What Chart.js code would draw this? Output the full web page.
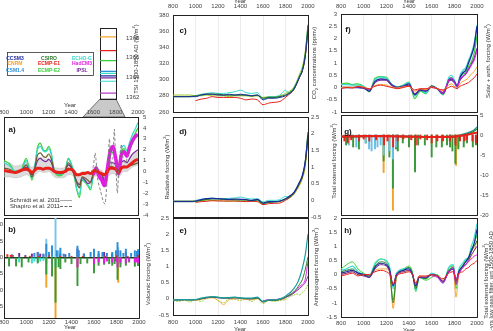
<!DOCTYPE html>
<html>
<head>
<meta charset="utf-8">
<script src="https://cdn.jsdelivr.net/npm/chart.js@4.4.0/dist/chart.umd.min.js"></script>
<style>
body{margin:0;width:493px;height:331px;overflow:hidden;background:#fff;position:relative;font-family:'Liberation Sans',Arial,sans-serif}
canvas{position:absolute}
.t{position:absolute;font-size:6px;color:#333;white-space:nowrap;transform:translate(-50%,-50%)}
.v{position:absolute;font-size:6px;color:#333;white-space:nowrap;transform:translate(-50%,-50%) rotate(-90deg)}
.lab{position:absolute;font-size:8px;font-weight:bold;color:#111;transform:translate(-50%,-50%)}
.lg{position:absolute;font-size:5px;font-weight:bold;white-space:nowrap;transform:translate(-50%,-50%)}
</style>
</head>
<body>
<svg width="493" height="331" style="position:absolute;left:0;top:0">
  <polygon points="100,99 116,99 125,117 83,117" fill="#c9c9c9" stroke="#555" stroke-width="0.8"/>
  <rect x="7.5" y="52.5" width="86" height="23" fill="none" stroke="#333" stroke-width="0.8"/>
</svg>
<script>
// modelos y colores
const models = ['CCSM3', 'CSIRO', 'ECHO-G', 'CNRM', 'ECMP-E1', 'HadCM3', 'CSM1.4', 'ECMP-E2', 'IPSL'];
const modelColors = ['#1b2c9c', '#2c7a2c', '#36dccc', '#f3a32a', '#e8211b', '#e21be2', '#2a8fd8', '#38d038', '#7a2a9a'];

// TSI 1500-1850 AD
const tsiColors = ['#f3a32a', '#e8211b', '#38d038', '#2a8fd8', '#36dccc', '#1b2c9c', '#7a2a9a', '#36dccc', '#b040c0'];
const tsiValues = [1368.1, 1366.7, 1365.7, 1364.6, 1364.4, 1364.15, 1363.95, 1363.6, 1362.4];

// a) solar
const yrsA = [800, 850, 900, 950, 1000, 1025, 1050, 1075, 1100, 1125, 1150, 1175, 1200, 1225, 1250, 1300, 1350, 1375, 1400, 1425, 1450, 1475, 1500, 1525, 1550, 1575, 1600, 1625, 1650, 1675, 1700, 1725, 1750, 1775, 1800, 1825, 1850, 1875, 1900, 1925, 1950, 1975, 2000];
const aGreen = [1.0, 0.7, 0.0, 0.1, 1.2, 0.3, -0.8, 0.4, 2.2, 2.6, 2.0, 1.9, 2.3, 1.6, 0.0, -0.4, 0.2, 1.2, 0.8, -0.2, -1.6, -2.4, -0.8, -1.0, -1.3, -1.7, -0.4, 0.5, -0.2, -0.4, -1.4, -0.3, 1.9, 1.7, 1.4, -0.1, 1.8, 2.1, 1.6, 2.3, 3.0, 3.5, 4.0];
const aCyan = [0.8, 0.5, 0.0, 0.0, 1.0, 0.2, -0.6, 0.5, 2.0, 2.3, 1.9, 1.8, 2.1, 1.5, 0.1, -0.3, 0.2, 1.1, 0.7, -0.1, -1.5, -2.1, -0.7, -0.9, -1.2, -1.5, -0.3, 0.4, -0.2, -0.3, -1.2, -0.2, 2.1, 2.0, 1.6, 0.2, 2.0, 2.4, 1.9, 2.7, 3.4, 3.9, 4.5];
const aBrown = [0.3, 0.2, -0.1, 0.0, 0.6, 0.1, -0.5, 0.3, 1.5, 1.7, 1.4, 1.3, 1.6, 1.1, 0.1, -0.2, 0.1, 0.8, 0.5, -0.2, -1.0, -1.5, -0.5, -0.6, -0.8, -1.0, -0.2, 0.3, -0.1, -0.2, -0.8, -0.1, 0.5, 0.4, 0.3, 0.0, 0.4, 0.5, 0.4, 0.5, 0.6, 0.7, 0.8];
const aPurple = [0.1, 0.0, -0.1, 0.0, 0.4, 0.1, -0.3, 0.2, 1.0, 1.2, 1.0, 0.9, 1.1, 0.8, 0.0, -0.2, 0.1, 0.6, 0.4, -0.2, -0.9, -1.2, -0.6, -0.8, -1.1, -1.0, -0.2, 0.2, -0.2, -0.3, -1.0, -0.2, 0.8, 0.8, 0.6, 0.0, 0.8, 1.0, 0.8, 1.2, 1.6, 1.8, 2.0];
const aRed = [0.1, 0.0, -0.1, 0.1, 0.2, 0.1, -0.1, 0.1, 0.3, 0.3, 0.2, 0.3, 0.3, 0.2, 0.0, -0.1, 0.0, 0.2, 0.2, 0.0, -0.3, -0.3, -0.2, -0.2, -0.1, -0.2, 0.0, 0.1, -0.1, -0.2, -0.3, 0.0, 0.3, 0.3, 0.2, -0.1, 0.3, 0.4, 0.4, 0.6, 0.8, 1.0, 1.1];
const aSchmidtHi = [0.9, 0.8, 0.5, 0.6, 0.9, 0.6, 0.4, 0.6, 1.2, 1.3, 1.2, 1.1, 1.2, 0.9, 0.4, 0.3, 0.4, 0.8, 0.7, 0.3, -0.2, -0.4, 0.0, 0.0, -0.1, -0.2, 0.3, 0.5, 0.2, 0.1, -0.2, 0.4, 0.8, 0.8, 0.7, 0.3, 0.8, 1.0, 0.9, 1.2, 1.5, 1.7, 1.8];
const aSchmidtLo = [-0.5, -0.5, -0.6, -0.5, -0.3, -0.4, -0.6, -0.4, -0.1, 0.0, -0.1, -0.1, 0.0, -0.2, -0.5, -0.6, -0.5, -0.3, -0.3, -0.5, -1.2, -1.5, -0.8, -0.9, -1.0, -1.2, -0.6, -0.4, -0.6, -0.8, -1.2, -0.6, -0.3, -0.2, -0.3, -0.6, -0.2, 0.0, 0.0, 0.2, 0.4, 0.5, 0.6];
const magYrsA = [1600, 1625, 1650, 1675, 1700, 1725, 1750, 1775, 1800, 1825, 1850, 1875, 1900, 1925, 1950, 1975, 2000];
const aMagenta = [-0.3, 0.3, -0.4, -0.8, -1.3, 0.2, 1.8, 2.3, 1.2, -0.2, 1.5, 1.8, 1.4, 2.2, 2.8, 3.2, 3.4];
const shapYrs = [1580, 1600, 1617, 1640, 1665, 1690, 1706, 1725, 1744, 1760, 1775, 1788, 1800, 1815, 1830, 1850, 1870, 1890, 1910, 1930, 1950, 1975, 2000];
const shapVals = [-0.1, 0.5, 1.7, -0.8, -1.8, -2.8, -3.0, -0.5, 3.0, 0.6, 1.2, 3.9, 1.0, -2.0, 0.5, 2.5, 1.0, 0.8, 1.5, 2.0, 2.6, 3.0, 3.3];

// b) volcanic
const bGreenYrs = [845, 907, 958, 1018, 1100, 1176, 1227, 1258, 1285, 1301, 1345, 1400, 1453, 1480, 1540, 1600, 1641, 1690, 1735, 1762, 1783, 1809, 1835, 1883, 1912, 1963, 1991];
const bGreen = [-2.7, -2.7, -3.0, -1.5, -1.8, -5.2, -5.8, -13.8, -3.0, -3.5, -1.5, -2.0, -8.7, -2.0, -1.8, -4.8, -2.5, -2.2, -2.0, -2.5, -2.0, -6.8, -3.0, -2.5, -1.5, -2.8, -2.6];
const bOrangeYrs = [1176, 1258, 1453, 1815, 1835];
const bOrange = [-9.2, -22, -3.0, -7.7, -2.0];
const bLightYrs = [1176, 1258, 1285, 1453, 1600, 1815];
const bLight = [5.5, 16, 2.0, 2.5, 2.0, 3.0];
const bBlueYrs = [870, 990, 1070, 1100, 1150, 1176, 1200, 1227, 1270, 1301, 1330, 1380, 1453, 1465, 1510, 1570, 1600, 1641, 1675, 1715, 1762, 1795, 1809, 1835, 1861, 1883, 1930, 1963, 1982, 1991];
const bBlue = [0.8, 0.6, 1.2, 1.5, 1.0, 4.0, 1.5, 3.5, 2.0, 2.8, 1.0, 1.2, 3.4, 2.0, 1.0, 1.5, 2.5, 1.8, 1.5, 1.2, 1.5, 2.0, 4.5, 2.0, 1.2, 2.5, 1.2, 2.0, 1.8, 2.3];
const bPurpleYrs = [935, 1048, 1100, 1122, 1150, 1300, 1345, 1453, 1510, 1600, 1641, 1690, 1762, 1809, 1883, 1991];
const bPurple = [1.2, 1.0, 1.5, 1.0, 0.8, 1.0, 0.8, 2.5, 1.0, 1.2, 1.0, 1.5, 1.0, 2.0, 1.5, 1.0];
const bCyanYrs = [845, 935, 1048, 1070, 1100, 1122, 1150, 1176, 1227, 1258];
const bCyan = [-1.0, -1.5, -1.8, -1.2, -1.5, -1.2, -1.0, -2.0, -2.0, -3.0];
const bMagYrs = [1453, 1600, 1641, 1690, 1715, 1762, 1795, 1809, 1835, 1883, 1912, 1963, 1982, 1991];
const bMag = [-3.0, -2.0, -1.5, -1.8, -1.2, -1.5, -1.2, -3.0, -1.5, -1.8, -1.2, -1.5, -1.5, -1.8];
const bRedYrs = [830, 860, 880, 990, 1030, 1110, 1200, 1300, 1400, 1500, 1700, 1800, 1900, 1990];
const bRed = [0.8, 0.6, 0.5, 0.4, 0.3, 0.3, 0.4, 0.3, 0.3, 0.3, 0.3, 0.4, 0.3, 0.5];

// c) d) e)
const yrsC = [800, 850, 900, 950, 1000, 1050, 1100, 1150, 1200, 1250, 1300, 1350, 1400, 1450, 1500, 1550, 1600, 1650, 1700, 1750, 1800, 1825, 1850, 1875, 1900, 1925, 1950, 1975, 2000];
const cGreen = [279, 279, 279, 279, 280, 281, 282, 282, 282, 281, 281, 281, 281, 281, 280, 281, 277, 278, 278, 279, 281, 283, 285, 289, 296, 304, 312, 331, 368];
const cBlue = [279, 279, 279, 279, 279, 281, 282, 282, 281, 281, 282, 281, 282, 281, 280, 281, 275, 277, 277, 278, 280, 282, 284, 288, 295, 303, 311, 328, 362];
const cRed = [null, null, null, null, 274, 276, 277, 279, 278, 278, 278, 278, 277, 275, 276, 275, 269, 271, 272, 273, 278, 281, 284, 288, 295, 303, 311, 328, 360];
const cCyan = [null, null, null, null, 280, 282, 283, 284, 283, 283, 284, 285, 287, 284, 283, 284, 276, 279, 279, 281, 287, 284, 286, 290, 297, 305, 313, 330, 366];
const cLime = [281, 281, 281, 281, 280, 280, 281, 280, 280, 280, 279, 280, 280, 280, 279, 280, 278, 279, 279, 280, 283, 285, 287, 291, 298, 307, 316, 334, 366];

const dBlue = [-0.03, -0.03, -0.03, -0.03, -0.02, 0.02, 0.05, 0.06, 0.05, 0.04, 0.03, 0.04, 0.03, 0.02, 0.0, 0.03, -0.08, -0.04, -0.04, -0.02, 0.05, 0.1, 0.16, 0.24, 0.38, 0.55, 0.75, 1.15, 1.95];
const dGreen = [-0.04, -0.04, -0.04, -0.04, -0.03, 0.0, 0.03, 0.04, 0.04, 0.03, 0.02, 0.02, 0.01, 0.01, -0.01, 0.01, -0.1, -0.06, -0.05, -0.03, 0.04, 0.08, 0.14, 0.22, 0.36, 0.52, 0.72, 1.12, 2.05];
const dLime = [-0.02, -0.02, -0.02, -0.02, -0.02, -0.01, 0.0, -0.01, -0.01, -0.02, -0.03, -0.02, -0.02, -0.02, -0.03, -0.02, -0.06, -0.05, -0.04, -0.03, 0.02, 0.05, 0.1, 0.18, 0.3, 0.45, 0.65, 1.0, 1.9];
const dCyan = [null, null, null, null, 0.0, 0.03, 0.05, 0.07, 0.05, 0.05, 0.06, 0.07, 0.1, 0.06, 0.04, 0.05, -0.05, 0.0, 0.0, 0.02, 0.12, 0.1, 0.15, 0.24, 0.38, 0.55, 0.76, 1.15, 2.0];
const dRed = [null, null, null, null, -0.06, -0.04, -0.03, -0.01, -0.02, -0.02, -0.02, -0.02, -0.03, -0.04, -0.03, -0.04, -0.13, -0.1, -0.09, -0.08, 0.0, 0.05, 0.12, 0.2, 0.34, 0.5, 0.7, 1.1, 1.85];

const eTeal = [-0.03, -0.03, -0.02, -0.03, -0.02, 0.02, 0.05, 0.07, 0.05, 0.03, 0.04, 0.05, 0.03, 0.02, 0.02, 0.05, -0.08, -0.03, -0.03, 0.0, 0.08, 0.15, 0.22, 0.32, 0.45, 0.65, 0.95, 1.35, 2.0];
const eDark = [-0.04, -0.04, -0.03, -0.04, -0.03, 0.0, 0.04, 0.06, 0.04, 0.02, 0.03, 0.04, 0.02, 0.01, 0.0, 0.03, -0.1, -0.05, -0.05, -0.02, 0.05, 0.1, 0.15, 0.22, 0.32, 0.45, 0.6, 0.9, 1.3];
const eMagenta = [null, null, null, null, null, null, null, null, null, null, null, null, null, null, null, null, -0.06, -0.03, -0.03, 0.0, 0.05, 0.1, 0.15, 0.2, 0.28, 0.38, 0.45, 0.6, 1.15];
const ePurple = [-0.03, -0.03, -0.03, -0.03, -0.03, 0.0, 0.03, 0.05, 0.03, 0.02, 0.02, 0.03, 0.02, 0.0, 0.0, 0.02, -0.09, -0.04, -0.04, -0.02, 0.04, 0.08, 0.12, 0.18, 0.25, 0.32, 0.4, 0.5, 0.7];
const eLime = [-0.05, -0.08, -0.04, -0.1, -0.03, -0.08, 0.02, 0.05, -0.05, -0.12, 0.0, -0.02, -0.05, 0.0, -0.08, 0.02, -0.15, -0.05, -0.08, -0.05, -0.02, 0.05, 0.08, 0.12, 0.15, 0.12, 0.2, 0.28, 0.45];
const eOrange = [null, null, null, null, -0.05, -0.02, 0.02, 0.03, -0.05, -0.18, -0.02, 0.0, 0.0, -0.02, -0.03, 0.0, -0.1, -0.05, -0.05, -0.03, 0.0, null, null, null, null, null, null, null, null];

// f) solar + anth
const yrsF = [800, 850, 900, 950, 1000, 1050, 1100, 1150, 1200, 1250, 1300, 1350, 1400, 1450, 1500, 1550, 1600, 1650, 1700, 1725, 1750, 1775, 1800, 1825, 1850, 1875, 1900, 1925, 1950, 1975, 2000];
const fGreen = [0.15, 0.18, 0.12, 0.15, 0.05, -0.18, 0.38, 0.45, 0.42, 0.1, 0.02, 0.1, 0.22, -0.45, -0.15, -0.25, 0.08, -0.05, -0.3, -0.05, 0.35, 0.4, 0.25, 0.0, 0.4, 0.55, 0.6, 0.85, 1.05, 1.4, 2.1];
const fCyan = [0.12, 0.12, 0.1, 0.1, 0.05, -0.15, 0.32, 0.42, 0.38, 0.12, 0.02, 0.1, 0.2, -0.35, -0.1, -0.22, 0.05, -0.05, -0.28, 0.0, 0.4, 0.5, 0.3, 0.1, 0.5, 0.7, 0.8, 1.1, 1.4, 1.8, 2.55];
const fBlue = [0.0, 0.0, 0.0, 0.0, -0.02, -0.15, 0.25, 0.35, 0.32, 0.1, 0.0, 0.05, 0.15, -0.3, -0.1, -0.15, 0.05, -0.05, -0.25, -0.05, 0.3, 0.35, 0.25, 0.05, 0.4, 0.6, 0.7, 1.0, 1.3, 1.7, 2.5];
const fPurple = [0.0, 0.0, 0.0, 0.0, -0.02, -0.1, 0.2, 0.3, 0.3, 0.08, 0.0, 0.05, 0.1, -0.25, -0.08, -0.12, 0.05, -0.05, -0.2, 0.0, 0.25, 0.3, 0.2, 0.05, 0.3, 0.45, 0.55, 0.75, 0.95, 1.2, 1.6];
const fMagenta = [null, null, null, null, null, null, null, null, null, null, null, null, null, null, null, null, 0.0, -0.05, -0.25, 0.0, 0.3, 0.4, 0.2, 0.0, 0.35, 0.45, 0.55, 0.7, 0.9, 1.1, 1.5];
const fRed = [-0.05, 0.0, -0.02, 0.05, 0.0, -0.05, 0.05, 0.1, 0.05, 0.0, -0.05, 0.0, 0.05, -0.1, -0.05, -0.05, 0.0, -0.05, -0.1, -0.05, 0.0, 0.05, 0.0, -0.05, 0.05, 0.1, 0.15, 0.2, 0.3, 0.4, 0.55];
const fOrange = [0.0, 0.02, 0.0, 0.05, 0.02, -0.05, 0.08, 0.12, 0.1, 0.0, -0.02, 0.02, 0.05, -0.15, -0.05, -0.08, 0.02, -0.05, -0.12, -0.02, 0.1, 0.15, 0.05, -0.05, 0.15, 0.25, 0.3, 0.4, 0.55, 0.65, 0.85];

// g) total external
const gGreenYrs = bGreenYrs;
const gGreen = [-2.5, -3.0, -3.5, -2.0, -2.5, -6.5, -5.5, -13.3, -3.5, -4.0, -2.0, -3.0, -9.2, -2.5, -2.5, -5.5, -3.0, -3.0, -2.5, -3.0, -4.0, -7.1, -3.5, -3.0, -2.0, -3.0, -2.5];
const gOrangeYrs = [1176, 1258, 1453, 1815, 1835];
const gOrange = [-9.4, -18.8, -4.0, -7.6, -3.0];
const gCyanYrs = [870, 935, 1018, 1048, 1070, 1100, 1122, 1150, 1176, 1227, 1258, 1285];
const gCyan = [-2.5, -3.0, -2.0, -3.5, -4.0, -3.5, -3.0, -2.5, -5.0, -4.0, -6.0, -3.0];
const gRedYrs = [830, 860, 890, 960, 1000, 1050, 1110, 1180, 1210, 1260, 1300, 1350, 1420, 1460, 1500, 1560, 1600, 1650, 1700, 1760, 1810, 1850, 1890, 1910, 1960, 1990];
const gRed = [-1.5, -2.0, -1.2, -1.5, -1.0, -1.5, -1.2, -2.5, -1.5, -3.0, -1.5, -1.0, -1.2, -2.5, -1.0, -1.2, -2.0, -1.5, -1.5, -1.5, -2.5, -1.5, -1.5, -1.2, -1.5, -2.0];
const yrsG = [800, 1000, 1200, 1400, 1600, 1800, 1850, 1900, 1950, 1975, 2000];
const gRedBase = [-0.4, -0.3, -0.3, -0.4, -0.5, -0.4, -0.2, 0.0, 0.3, 0.5, 0.6];
const gTealBase = [-0.3, -0.2, -0.2, -0.3, -0.4, -0.3, 0.0, 0.4, 0.9, 1.3, 2.0];
const gGreenBase = [-0.5, -0.4, -0.3, -0.5, -0.5, -0.4, -0.2, 0.2, 0.6, 1.0, 1.5];

// h) 31-yr filtered total
const yrsH = [800, 850, 900, 950, 1000, 1050, 1100, 1150, 1200, 1230, 1260, 1290, 1350, 1400, 1430, 1460, 1490, 1550, 1600, 1650, 1700, 1750, 1790, 1815, 1840, 1875, 1900, 1925, 1950, 1975, 2000];
const hGreen = [0.2, 0.35, 0.45, 0.2, 0.05, -0.05, 0.35, 0.55, 0.45, 0.2, -0.9, 0.0, 0.2, 0.3, 0.1, -0.6, -0.1, -0.2, -0.1, 0.0, -0.3, 0.2, 0.3, -0.5, 0.1, 0.35, 0.5, 0.6, 0.9, 1.1, 1.4];
const hCyan = [0.15, 0.2, 0.3, 0.1, 0.0, -0.05, 0.4, 0.55, 0.5, 0.25, -0.5, 0.05, 0.2, 0.25, 0.05, -0.55, -0.1, -0.15, 0.05, -0.05, -0.3, 0.25, 0.35, -0.3, 0.2, 0.4, 0.55, 0.6, 1.0, 1.3, 1.8];
const hBlue = [0.05, 0.1, 0.15, 0.05, 0.0, -0.1, 0.25, 0.4, 0.35, 0.15, -0.4, 0.0, 0.15, 0.2, 0.0, -0.4, -0.1, -0.1, 0.0, -0.05, -0.25, 0.1, 0.2, -0.2, 0.1, 0.3, 0.45, 0.6, 0.85, 1.1, 1.6];
const hRed = [-0.05, 0.0, 0.05, -0.05, 0.0, 0.0, 0.1, 0.15, 0.1, 0.0, -0.35, -0.05, 0.05, 0.1, 0.0, -0.3, -0.05, -0.05, 0.0, -0.05, -0.15, 0.05, 0.1, -0.2, 0.05, 0.1, 0.2, 0.25, 0.35, 0.4, 0.5];
const hOrange = [0.05, 0.05, 0.1, 0.0, 0.0, -0.05, 0.15, 0.2, 0.2, 0.1, -1.2, -0.1, 0.1, 0.15, 0.0, -0.45, -0.05, -0.1, 0.0, -0.05, -0.2, 0.1, 0.2, -0.8, 0.05, 0.25, 0.35, 0.45, 0.65, 0.85, 1.2];
const hDark = [0.1, 0.15, 0.2, 0.05, 0.0, -0.05, 0.3, 0.45, 0.4, 0.1, -1.0, -0.05, 0.15, 0.25, 0.05, -0.5, -0.1, -0.15, 0.0, -0.05, -0.25, 0.15, 0.25, -0.35, 0.1, 0.3, 0.45, 0.55, 0.8, 1.0, 1.2];
const hPurple = [0.0, 0.05, 0.1, 0.0, -0.05, -0.1, 0.2, 0.35, 0.3, 0.1, -0.35, 0.0, 0.1, 0.15, 0.0, -0.35, -0.1, -0.1, 0.0, -0.05, -0.25, 0.1, 0.2, -0.25, 0.05, 0.25, 0.35, 0.5, 0.7, 0.85, 1.0];
const hMagYrs = [1600, 1650, 1700, 1750, 1790, 1815, 1840, 1875, 1900, 1925, 1950, 1975, 2000];
const hMagenta = [-0.05, -0.1, -0.3, 0.1, 0.25, -0.35, 0.0, 0.25, 0.35, 0.45, 0.55, 0.65, 0.7];

const C = {blue: '#1b2c9c', dgreen: '#2c7a2c', cyan: '#36dccc', orange: '#f3a32a', red: '#e8211b', magenta: '#e21be2', lblue: '#2a8fd8', green: '#38d038', purple: '#7a2a9a', teal: '#1a9c9c', lime: '#9ccc2c', brown: '#6e5a2a'};

Chart.defaults.font.family = "'Liberation Sans', Arial, sans-serif";
Chart.defaults.font.size = 6;
Chart.defaults.color = '#444';
Chart.defaults.animation = false;

const PL = 30, PR = 30, PT = 16, PB = 16;
const pts = (xs, ys) => ys.map((v, i) => ({x: xs[i], y: v}));
function ln(xs, ys, color, w, extra) {
    return Object.assign({type: 'line', data: pts(xs, ys), borderColor: color, borderWidth: w || 1, pointRadius: 0,
        cubicInterpolationMode: 'monotone', fill: false, xAxisID: 'x', yAxisID: 'y'}, extra || {});
}
function spikes(xs, ys, color) {
    return {type: 'bar', data: pts(xs, ys), backgroundColor: color, barThickness: 1.3, grouped: false, xAxisID: 'x', yAxisID: 'y'};
}

function panel(box, datasets, o) {
    const cv = document.createElement('canvas');
    cv.width = box.w + PL + PR;
    cv.height = box.h + PT + PB;
    cv.style.left = (box.l - PL) + 'px';
    cv.style.top = (box.t - PT) + 'px';
    document.body.appendChild(cv);
    const bd = {display: true, color: '#222', width: 1};
    const xAxis = (pos, show, pad) => ({
        type: 'linear', position: pos, min: 800, max: 2000, offset: false,
        ticks: {display: show, stepSize: 200, padding: pad, maxRotation: 0, autoSkip: false, color: '#444', callback: v => v},
        grid: {display: pos === 'bottom' && !!o.grid, drawTicks: false, color: '#e4e4e4', lineWidth: 0.7, offset: false},
        border: bd,
        afterFit: s => { s.height = pos === 'top' ? PT : PB; }
    });
    const yAxis = (pos, show, pad) => ({
        type: 'linear', position: pos, min: o.min, max: o.max,
        ticks: {display: show, stepSize: o.step, padding: pad, includeBounds: false, color: '#444', callback: v => v},
        grid: {display: pos === 'left' && !!o.zero, drawTicks: false, lineWidth: 1.4,
            color: c => (c.tick && c.tick.value === 0) ? o.zero : 'rgba(0,0,0,0)'},
        border: bd,
        afterFit: s => { s.width = pos === 'left' ? PL : PR; }
    });
    return new Chart(cv, {
        type: o.type || 'line',
        data: {datasets: datasets},
        options: {
            responsive: false, devicePixelRatio: 1, events: [],
            layout: {padding: 0},
            plugins: {legend: {display: false}, tooltip: {enabled: false}},
            scales: {
                x: xAxis('bottom', !!o.xb, o.xbPad || 2),
                x2: xAxis('top', !!o.xt, o.xtPad || 2),
                y: yAxis('left', !!o.yl, o.ylPad || 4),
                y2: yAxis('right', !!o.yr, o.yrPad || 3)
            }
        }
    });
}

// a)
panel({l: 4, t: 117, w: 134, h: 98}, [
    ln(shapYrs, shapVals, '#777', 0.9, {borderDash: [3, 2], cubicInterpolationMode: 'default', tension: 0.2}),
    ln(yrsA, aRed, C.red, 3),
    ln(magYrsA, aMagenta, C.magenta, 3.5),
    ln(yrsA, aBrown, C.brown, 1.2),
    ln(yrsA, aPurple, C.purple, 1.2),
    ln(yrsA, aCyan, C.cyan, 1.2),
    ln(yrsA, aGreen, C.green, 1.2),
    ln(yrsA, aSchmidtHi, '#c8c8c8', 0.6, {fill: '+1', backgroundColor: 'rgba(190,190,190,0.55)'}),
    ln(yrsA, aSchmidtLo, '#c8c8c8', 0.6)
], {min: -4, max: 5, step: 1, yr: true, yrPad: 5, xt: true, xtPad: 1});

// b)
panel({l: 4, t: 218, w: 135, h: 100}, [
    spikes(bRedYrs, bRed, C.red),
    spikes(bMagYrs, bMag, C.magenta),
    spikes(bBlueYrs, bBlue, C.lblue),
    spikes(bPurpleYrs, bPurple, C.purple),
    spikes(bGreenYrs, bGreen, '#3a9a3a'),
    spikes(bCyanYrs, bCyan, C.cyan),
    spikes(bLightYrs, bLight, '#7cc4ee'),
    spikes(bOrangeYrs, bOrange, C.orange)
], {type: 'bar', min: -18.6, max: 12, step: 5, yl: true, ylPad: 1, xb: true, xbPad: 1, zero: '#1e3a1e'});

// c)
panel({l: 173, t: 15, w: 135, h: 97}, [
    ln(yrsC, cBlue, C.blue),
    ln(yrsC, cGreen, C.dgreen, 1.2),
    ln(yrsC, cRed, C.red),
    ln(yrsC, cCyan, C.cyan),
    ln(yrsC, cLime, C.lime)
], {min: 260, max: 380, step: 20, yl: true, xt: true, xtPad: 5, grid: true});

// d)
panel({l: 173, t: 117, w: 135, h: 100}, [
    ln(yrsC, dBlue, C.blue, 1.2),
    ln(yrsC, dGreen, C.dgreen, 1.2),
    ln(yrsC, dRed, C.red),
    ln(yrsC, dCyan, C.cyan),
    ln(yrsC, dLime, C.lime)
], {min: -0.5, max: 2.5, step: 0.5, yr: true, grid: true});

// e)
panel({l: 173, t: 218, w: 135, h: 97}, [
    ln(yrsC, eTeal, C.teal, 1.2),
    ln(yrsC, eDark, C.dgreen, 1),
    ln(yrsC, eMagenta, C.magenta, 1),
    ln(yrsC, ePurple, C.purple, 1),
    ln(yrsC, eOrange, C.orange, 0.8),
    ln(yrsC, eLime, C.lime, 1, {borderDash: [2, 1]})
], {min: -0.5, max: 2.5, step: 0.5, yl: true, xb: true, xbPad: 4, grid: true});

// f)
panel({l: 341, t: 13.5, w: 136, h: 98}, [
    ln(yrsF, fRed, C.red),
    ln(yrsF, fOrange, C.orange),
    ln(yrsF, fMagenta, C.magenta),
    ln(yrsF, fPurple, C.purple, 1.2),
    ln(yrsF, fBlue, C.blue, 1.4),
    ln(yrsF, fCyan, C.cyan, 1.2),
    ln(yrsF, fGreen, C.green, 1.2)
], {min: -1, max: 3, step: 0.5, yl: true, xt: true, xtPad: 4, grid: true});

// g)
panel({l: 341, t: 115, w: 136, h: 100}, [
    ln(yrsG, gRedBase, C.red, 2.2),
    ln(yrsG, gGreenBase, C.dgreen, 1.2),
    ln(yrsG, gTealBase, C.teal, 1.2),
    spikes(gRedYrs, gRed, C.red),
    spikes(gCyanYrs, gCyan, '#6cc0e8'),
    spikes(gGreenYrs, gGreen, '#3a9a3a'),
    spikes(gOrangeYrs, gOrange, C.orange)
], {type: 'bar', min: -20, max: 5, step: 5, yr: true, grid: true});

// h)
panel({l: 341, t: 218, w: 136, h: 99}, [
    ln(yrsH, hRed, C.red),
    ln(hMagYrs, hMagenta, C.magenta),
    ln(yrsH, hPurple, C.purple),
    ln(yrsH, hBlue, C.blue, 1.2),
    ln(yrsH, hDark, C.dgreen),
    ln(yrsH, hOrange, C.orange),
    ln(yrsH, hCyan, C.cyan, 1.2),
    ln(yrsH, hGreen, C.green)
], {min: -1.5, max: 2, step: 0.5, yl: true, xb: true, xbPad: 3, grid: true});

// TSI box
(function () {
    const cv = document.createElement('canvas');
    cv.width = 16 + PL + PR;
    cv.height = 71 + PT + PB;
    cv.style.left = (100 - PL) + 'px';
    cv.style.top = (28 - PT) + 'px';
    document.body.appendChild(cv);
    const bd = {display: true, color: '#222', width: 1};
    new Chart(cv, {
        type: 'line',
        data: {
            labels: ['TSI'],
            datasets: tsiValues.map((v, i) => ({data: [v], showLine: false, pointStyle: 'line', pointRadius: 8,
                pointBorderWidth: 1.2, pointBorderColor: tsiColors[i], borderColor: tsiColors[i], xAxisID: 'x', yAxisID: 'y'}))
        },
        options: {
            responsive: false, devicePixelRatio: 1, events: [],
            plugins: {legend: {display: false}, tooltip: {enabled: false}},
            scales: {
                x: {type: 'category', offset: true, ticks: {display: false}, grid: {display: false}, border: bd, afterFit: s => { s.height = PB; }},
                x2: {type: 'category', position: 'top', offset: true, ticks: {display: false}, grid: {display: false}, border: bd, afterFit: s => { s.height = PT; }},
                y: {min: 1361.8, max: 1369, ticks: {display: false}, grid: {display: false}, border: bd, afterFit: s => { s.width = PL; }},
                y2: {position: 'right', min: 1361.8, max: 1369,
                    ticks: {stepSize: 1, padding: 2, includeBounds: false, color: '#444', callback: v => (v % 2 === 0 ? v : '')},
                    grid: {display: false}, border: bd, afterFit: s => { s.width = PR; }}
            }
        }
    });
})();

// textos
function txt(cls, s, x, y, color) {
    const d = document.createElement('div');
    d.className = cls;
    d.innerHTML = s;
    d.style.left = x + 'px';
    d.style.top = y + 'px';
    if (color) d.style.color = color;
    document.body.appendChild(d);
}
const legX = [15, 49, 82], legY = [57.5, 63.3, 70];
const legOrder = [['CCSM3', 'CSIRO', 'ECHO-G'], ['CNRM', 'ECMP-E1', 'HadCM3'], ['CSM1.4', 'ECMP-E2', 'IPSL']];
legOrder.forEach((row, r) => row.forEach((m, c) => txt('lg', m, legX[c], legY[r], modelColors[models.indexOf(m)])));

txt('v', 'TSI 1500-1850 AD (W/m<sup style="font-size:4px">2</sup>)', 135, 59);
txt('t', 'Year', 70, 105);
txt('t', 'Year', 70, 327);
txt('t', 'Year', 240, 0.5);
txt('t', 'Year', 240, 328.5);
txt('t', 'Year', 409, 0.5);
txt('t', 'Year', 409, 329.5);
txt('v', 'Radiative forcing (W/m<sup style="font-size:4px">2</sup>)', 166, 167);
txt('v', 'Volcanic forcing (W/m<sup style="font-size:4px">2</sup>)', 147, 274);
txt('v', 'CO<sub style="font-size:4px">2</sub> concentrations (ppmv)', 315, 63);
txt('v', 'Anthropogenic forcing (W/m<sup style="font-size:4px">2</sup>)', 315, 267);
txt('v', 'Solar + anth. forcing (W/m<sup style="font-size:4px">2</sup>)', 487, 61);
txt('v', 'Total external forcing (W/m<sup style="font-size:4px">2</sup>)', 333, 161);
txt('v', 'Total external forcing (W/m<sup style="font-size:4px">2</sup>)', 484.5, 281);
txt('v', '31-yrs low pass filter, wrt 1500-1850 AD', 491, 284);

const panelLabels = ['a)', 'b)', 'c)', 'd)', 'e)', 'f)', 'g)', 'h)'];
const labX = [12, 12, 183, 183, 183, 348, 348, 348], labY = [129, 229, 30, 131, 230, 29, 131, 230];
panelLabels.forEach((s, i) => txt('lab', s, labX[i], labY[i]));

// leyenda de a)
txt('t', 'Schmidt et al. 2011', 35, 200);
txt('t', 'Shapiro et al. 2011', 35, 205.5);
const l1 = document.createElement('div');
l1.style.cssText = 'position:absolute;left:60px;top:200px;width:12px;border-top:1px solid #aaa';
document.body.appendChild(l1);
const l2 = document.createElement('div');
l2.style.cssText = 'position:absolute;left:60px;top:205.5px;width:12px;border-top:1px dashed #666';
document.body.appendChild(l2);
</script>
</body>
</html>
